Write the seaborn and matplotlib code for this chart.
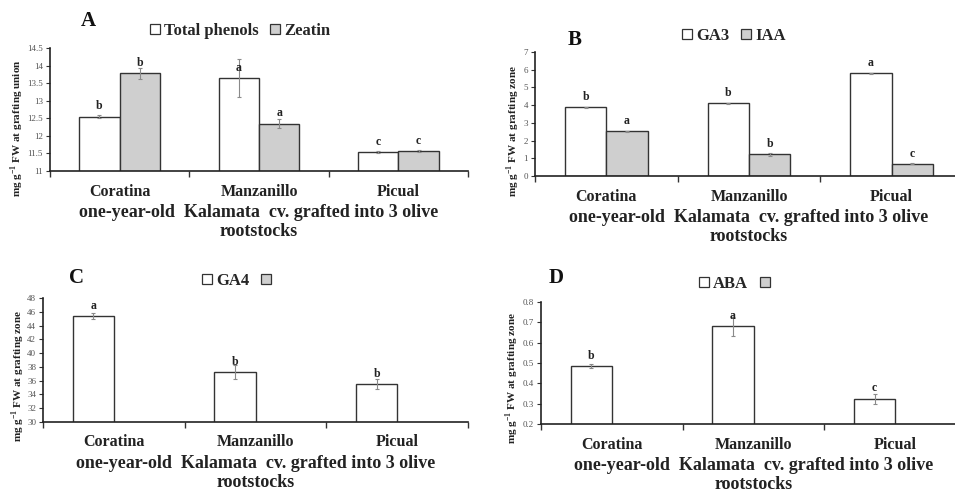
import numpy as np
import pandas as pd
import matplotlib
matplotlib.use("Agg")
import matplotlib.pyplot as plt
from matplotlib.patches import Patch
import seaborn as sns

# ---- data ----
rootstocks = ["Coratina", "Manzanillo", "Picual"]

# A: grafting union
phenols = [12.55, 13.65, 11.55]
phenols_err = [0.05, 0.55, 0.03]
phenols_letters = ["b", "a", "c"]
zeatin = [13.78, 12.35, 11.57]
zeatin_err = [0.15, 0.12, 0.02]
zeatin_letters = ["b", "a", "c"]

# B: grafting zone
ga3 = [3.88, 4.10, 5.80]
ga3_err = [0.04, 0.03, 0.03]
ga3_letters = ["b", "b", "a"]
iaa = [2.52, 1.22, 0.68]
iaa_err = [0.03, 0.10, 0.03]
iaa_letters = ["a", "b", "c"]

# C: grafting zone
ga4 = [45.4, 37.3, 35.5]
ga4_err = [0.4, 1.0, 0.7]
ga4_letters = ["a", "b", "b"]

# D: grafting zone
aba = [0.485, 0.68, 0.325]
aba_err = [0.01, 0.045, 0.025]
aba_letters = ["b", "a", "c"]

XLABEL = "one-year-old  Kalamata  cv. grafted into 3 olive\nrootstocks"
GRAY = "#cfcfcf"
EDGE = "#333333"

sns.set_style("ticks")
plt.rcParams["font.family"] = ["Liberation Serif", "DejaVu Serif"]
plt.rcParams["mathtext.fontset"] = "custom"
plt.rcParams["mathtext.rm"] = "Liberation Serif:bold"
plt.rcParams["mathtext.bf"] = "Liberation Serif:bold"

W, H = 955, 494
fig = plt.figure(figsize=(W / 100, H / 100), dpi=100)


def rect(x0, x1, ytop, ybot):
    return [x0 / W, 1 - ybot / H, (x1 - x0) / W, (ybot - ytop) / H]


def panel(ax, names, series, errs, letters, ylim, step, fmt, legend_x, legend_dy):
    rows = []
    for name, vals in zip(names, series):
        if vals is None:
            continue
        for cat, v in zip(rootstocks, vals):
            rows.append({"rootstock": cat, "series": name, "value": v})
    df = pd.DataFrame(rows)
    sns.barplot(data=df, x="rootstock", y="value", hue="series",
                hue_order=names, order=rootstocks, dodge=True,
                palette=["white", GRAY], width=0.58, errorbar=None,
                edgecolor=EDGE, linewidth=1.0, legend=False, ax=ax)

    for cont, e, lab in zip(ax.containers, [e for e in errs if e is not None],
                            [l for l in letters if l is not None]):
        xs = [b.get_x() + b.get_width() / 2 for b in cont]
        hs = [b.get_height() for b in cont]
        ax.errorbar(xs, hs, yerr=e, fmt="none", ecolor="#8a8a8a",
                    elinewidth=0.8, capsize=1.5, capthick=0.8, zorder=3)
        for x, h, t in zip(xs, hs, lab):
            ax.annotate(t, (x, h), xytext=(0, 3), textcoords="offset points",
                        ha="center", va="bottom", fontsize=8.5,
                        fontweight="bold", color="#222222")

    ax.set_xlim(-0.5, 2.5)
    ax.set_ylim(*ylim)
    yt = np.arange(ylim[0], ylim[1] + step / 2, step)
    ax.set_yticks(yt)
    ax.set_yticklabels([fmt(v) for v in yt], fontsize=6.5, color="#555555")
    ax.set_xticks([0, 1, 2])
    ax.set_xticklabels(rootstocks, fontsize=11.5, fontweight="bold", color="#222222")
    ax.set_xticks([-0.5, 0.5, 1.5, 2.5], minor=True)
    ax.tick_params(axis="x", which="major", length=0, pad=9)
    ax.tick_params(axis="x", which="minor", length=4, width=1, color="#333333", direction="out")
    ax.tick_params(axis="y", length=3, width=0.8, color="#333333", pad=2)
    ax.set_xlabel(XLABEL, fontsize=13, fontweight="bold", color="#222222",
                  labelpad=3, linespacing=1.15)
    ax.set_ylabel("")
    for s in ("top", "right"):
        ax.spines[s].set_visible(False)
    for s in ("left", "bottom"):
        ax.spines[s].set_color("#222222")
        ax.spines[s].set_linewidth(1.2)

    handles = [Patch(facecolor="white", edgecolor=EDGE, linewidth=0.9),
               Patch(facecolor=GRAY, edgecolor=EDGE, linewidth=0.9)]
    labels = [n.strip() for n in names]
    ax.legend(handles, labels, loc="center",
              bbox_to_anchor=(legend_x, 1 + legend_dy), ncol=2, frameon=False,
              prop={"family": "Liberation Serif", "weight": "bold", "size": 12},
              handlelength=0.6, handleheight=0.6, handletextpad=0.25,
              columnspacing=0.7, borderaxespad=0)


def gfmt(v):
    return f"{v:g}"


def dfmt(v):
    return f"{v:.1f}"


axA = fig.add_axes(rect(50, 468, 48, 171))
panel(axA, ["Total phenols", "Zeatin"], [phenols, zeatin],
      [phenols_err, zeatin_err], [phenols_letters, zeatin_letters],
      (11, 14.5), 0.5, gfmt, 0.455, 17 / 123)

axB = fig.add_axes(rect(535, 963, 52, 176))
panel(axB, ["GA3", "IAA"], [ga3, iaa], [ga3_err, iaa_err],
      [ga3_letters, iaa_letters], (0, 7), 1, gfmt, 0.465, 16 / 124)

axC = fig.add_axes(rect(43, 468, 298, 422))
panel(axC, ["GA4", " "], [ga4, None], [ga4_err, None],
      [ga4_letters, None], (30, 48), 2, gfmt, 0.46, 17 / 124)

axD = fig.add_axes(rect(541, 966, 302, 424))
panel(axD, ["ABA", " "], [aba, None], [aba_err, None],
      [aba_letters, None], (0.2, 0.8), 0.1, dfmt, 0.46, 18 / 122)

# axis titles
ylab_union = r"mg g$^{\mathbf{-1}}$ FW at grafting union"
ylab_zone = r"mg g$^{\mathbf{-1}}$ FW at grafting zone"
for x, y, t in [(17, 128, ylab_union), (513, 131, ylab_zone),
                (18, 376, ylab_zone), (512, 378, ylab_zone)]:
    fig.text(x / W, 1 - y / H, t, rotation=90, ha="center", va="center",
             fontsize=8, fontweight="bold", color="#222222")

# panel letters
for x, y, t in [(88, 21, "A"), (575, 40, "B"), (76, 278, "C"), (556, 278, "D")]:
    fig.text(x / W, 1 - y / H, t, ha="center", va="center",
             fontsize=15, fontweight="bold", color="#111111")

fig.savefig("out.png", dpi=100)
